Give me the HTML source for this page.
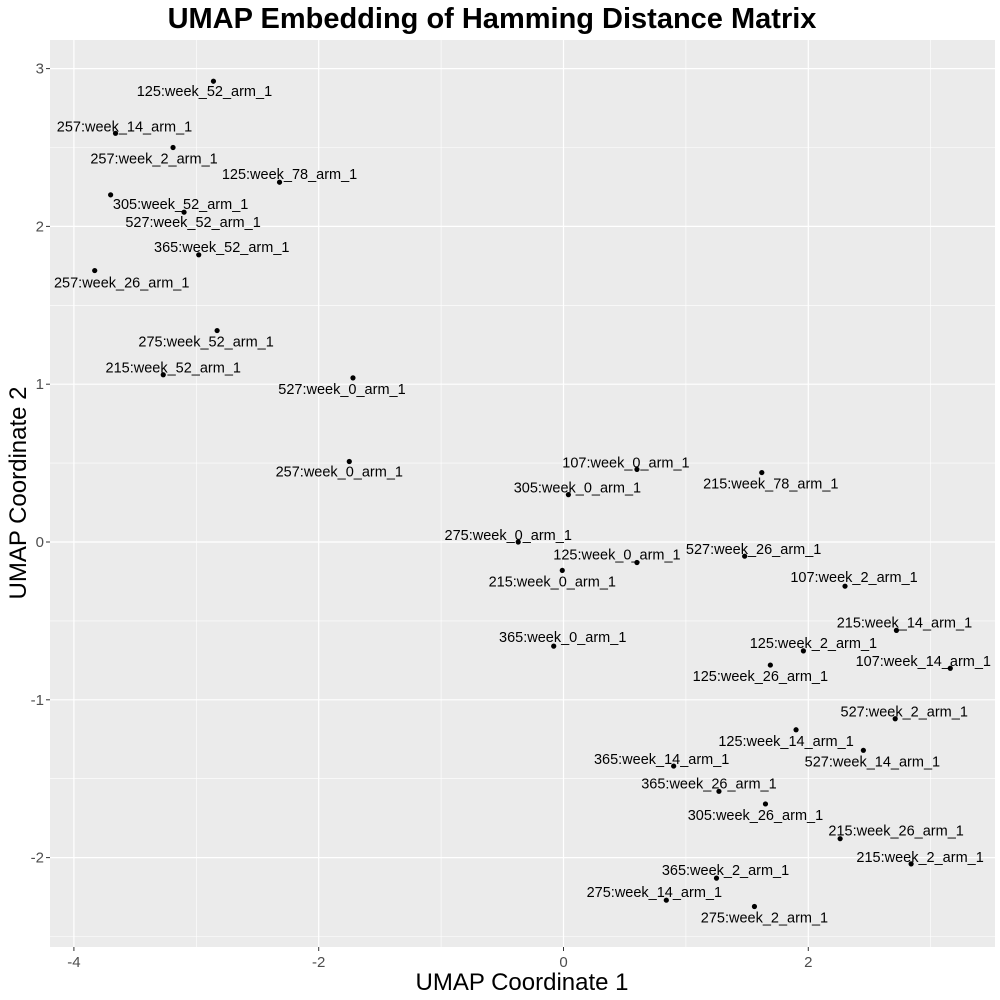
<!DOCTYPE html>
<html><head><meta charset="utf-8"><style>
body{margin:0;background:#fff;}
svg{display:block;font-family:"Liberation Sans",sans-serif;}
</style></head><body>
<svg id="chart" width="1000" height="1000" viewBox="0 0 1000 1000">
<text x="492" y="28" text-anchor="middle" font-size="29" font-weight="bold" fill="#000">UMAP Embedding of Hamming Distance Matrix</text>
<rect x="50" y="40" width="945" height="907" fill="#EBEBEB"/>
<g id="grid"></g><g id="axes"></g><g id="marks"></g>
<text x="522" y="990" text-anchor="middle" font-size="24" fill="#000">UMAP Coordinate 1</text>
<text transform="translate(26,493) rotate(-90)" text-anchor="middle" font-size="24" fill="#000">UMAP Coordinate 2</text>
</svg>
<script>
const labels=["125:week_52_arm_1","257:week_14_arm_1","257:week_2_arm_1","125:week_78_arm_1","305:week_52_arm_1","527:week_52_arm_1","365:week_52_arm_1","257:week_26_arm_1","275:week_52_arm_1","215:week_52_arm_1","527:week_0_arm_1","257:week_0_arm_1","107:week_0_arm_1","215:week_78_arm_1","305:week_0_arm_1","275:week_0_arm_1","527:week_26_arm_1","125:week_0_arm_1","215:week_0_arm_1","107:week_2_arm_1","215:week_14_arm_1","125:week_2_arm_1","365:week_0_arm_1","125:week_26_arm_1","107:week_14_arm_1","527:week_2_arm_1","125:week_14_arm_1","527:week_14_arm_1","365:week_14_arm_1","365:week_26_arm_1","305:week_26_arm_1","215:week_26_arm_1","215:week_2_arm_1","365:week_2_arm_1","275:week_14_arm_1","275:week_2_arm_1"];
const xs=[-2.86,-3.66,-3.19,-2.32,-3.70,-3.10,-2.98,-3.83,-2.83,-3.27,-1.72,-1.75,0.60,1.62,0.04,-0.37,1.48,0.60,-0.01,2.30,2.72,1.96,-0.08,1.69,3.16,2.71,1.90,2.45,0.90,1.27,1.65,2.26,2.84,1.25,0.84,1.56];
const ys=[2.92,2.59,2.50,2.28,2.20,2.09,1.82,1.72,1.34,1.06,1.04,0.51,0.46,0.44,0.30,0.00,-0.09,-0.13,-0.18,-0.28,-0.56,-0.69,-0.66,-0.78,-0.80,-1.12,-1.19,-1.32,-1.42,-1.58,-1.66,-1.88,-2.04,-2.13,-2.27,-2.31];
const xTicks=[-4,-2,0,2];
const yTicks=[-2,-1,0,1,2,3];
// label repel offsets (layout, px)
const ldx=[-9,9,-19,10,70,9,23,27,-11,10,-11,-10,-11,9,9,-10,9,-20,-10,9,8,10,9,-10,-27,9,-10,9,-12,-10,-10,56,9,9,-12,10];
const ldy=[10,-7,11,-8,9,10,-8,12,11,-7,11,10,-7,11,-7,-7,-7,-8,11,-9,-8,-8,-9,11,-7,-7,11,11,-7,-8,11,-8,-7,-8,-8,11];
const sx=v=>563.5+v*122.4, sy=v=>542-v*157.8;
const NS="http://www.w3.org/2000/svg";
function mk(tag,attrs,parent){const e=document.createElementNS(NS,tag);for(const k in attrs)e.setAttribute(k,attrs[k]);parent.appendChild(e);return e;}
const grid=document.getElementById('grid'),axes=document.getElementById('axes'),marks=document.getElementById('marks');
for(let v=-4;v<=3;v++){const x=sx(v),minor=v%2!==0;if(x<50||x>995)continue;
 const l=mk('line',{x1:x,x2:x,y1:40,y2:947,stroke:'#fff','stroke-width':minor?0.6:1.2},grid);
 
 }
for(let v=-2.5;v<=3;v+=0.5){const y=sy(v),minor=Math.abs(v%1)>0.1;
 const l=mk('line',{x1:50,x2:995,y1:y,y2:y,stroke:'#fff','stroke-width':minor?0.6:1.2},grid);
 
 }
xTicks.forEach(v=>{const x=sx(v);
 const t=mk('line',{x1:x,x2:x,y1:947,y2:951,stroke:'#333'},axes);
 
 
 const s=mk('text',{x:x,y:967,'text-anchor':'middle','font-size':15,fill:'#4d4d4d'},axes);s.textContent=v;
 
 });
yTicks.forEach(v=>{const y=sy(v);
 const t=mk('line',{x1:46,x2:50,y1:y,y2:y,stroke:'#333'},axes);
 
 
 const s=mk('text',{x:44,y:y+5,'text-anchor':'end','font-size':15,fill:'#4d4d4d'},axes);s.textContent=v;
 
 });
labels.forEach((lab,i)=>{const x=sx(xs[i]),y=sy(ys[i]);
 const c=mk('circle',{cx:x,cy:y,r:2.6,fill:'#000'},marks);
 
 
 const t=mk('text',{x:x+ldx[i],y:y+ldy[i]+5,'text-anchor':'middle','font-size':14.5,fill:'#000'},marks);t.textContent=lab;
 
 });
</script>
</body></html>
